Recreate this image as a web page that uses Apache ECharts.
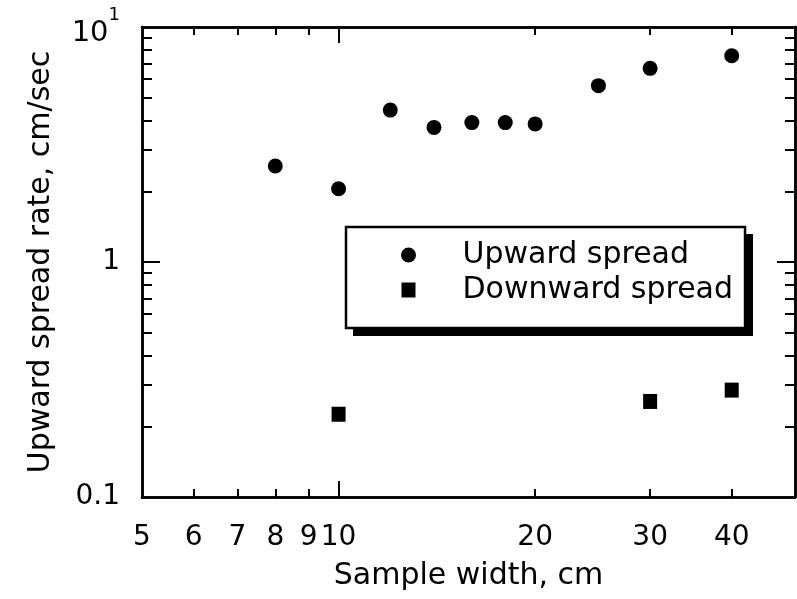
<!DOCTYPE html>
<html><head><meta charset="utf-8">
<script src="https://cdn.jsdelivr.net/npm/echarts@6/dist/echarts.min.js"></script>
<style>html,body{margin:0;padding:0;background:#fff}#c{width:797px;height:599px}</style>
</head><body><div id="c"></div>
<script>
// ---- data ----
const upwardWidth = [8, 10, 12, 14, 16, 18, 20, 25, 30, 40];
const upwardRate = [2.56, 2.05, 4.43, 3.74, 3.92, 3.92, 3.87, 5.63, 6.67, 7.55];
const downwardWidth = [10, 30, 40];
const downwardRate = [0.225, 0.255, 0.285];
const seriesNames = ['Upward spread', 'Downward spread'];
const xLabelValues = [5, 6, 7, 8, 9, 10, 20, 30, 40];
const xMinorTicks = [6, 7, 8, 9, 20, 30, 40];
const xMajorTicks = [10];
const yLabelValues = [0.1, 1, 10];
const yMinorTicks = [0.2, 0.3, 0.4, 0.5, 0.6, 0.7, 0.8, 0.9, 2, 3, 4, 5, 6, 7, 8, 9];
const yMajorTicks = [1];
const xTitle = 'Sample width, cm';
const yTitle = 'Upward spread rate, cm/sec';

const FONT = 'DejaVu Sans';
const BLACK = '#000';

function pair(xs, ys) { return xs.map((x, i) => [x, ys[i]]); }

function makeAxis(kind, pos, ticks, len, extra) {
  const base = {
    type: 'log', logBase: 10,
    min: kind === 'x' ? 5 : 0.1,
    max: kind === 'x' ? 50 : 10,
    position: pos,
    axisLine: { show: true, onZero: false, lineStyle: { color: BLACK, width: 2.5 } },
    axisTick: { show: true, inside: true, length: len, customValues: ticks, lineStyle: { color: BLACK, width: 2 } },
    axisLabel: { show: false },
    splitLine: { show: false },
    minorTick: { show: false },
    minorSplitLine: { show: false },
    silent: true
  };
  return Object.assign(base, extra || {});
}

const labelStyle = { fontFamily: FONT, fontSize: 28, color: BLACK };

const option = {
  animation: false,
  backgroundColor: '#fff',
  grid: { left: 142, right: 2, top: 27, bottom: 102, outerBoundsMode: 'none', containLabel: false },
  graphic: [
    { type: 'rect', z: 3, silent: true, shape: { x: 353, y: 234, width: 400, height: 102 }, style: { fill: BLACK } }
  ],
  xAxis: [
    makeAxis('x', 'bottom', xMinorTicks, 8, {
      axisLabel: Object.assign({ show: true, customValues: xLabelValues, margin: 27, formatter: v => String(Math.round(v)) }, labelStyle),
      name: xTitle, nameLocation: 'middle', nameGap: 64,
      nameTextStyle: { fontFamily: FONT, fontSize: 30, color: BLACK }
    }),
    makeAxis('x', 'bottom', xMajorTicks, 16),
    makeAxis('x', 'top', xMinorTicks, 8),
    makeAxis('x', 'top', xMajorTicks, 16)
  ],
  yAxis: [
    makeAxis('y', 'left', yMinorTicks, 10, {
      axisLabel: Object.assign({
        show: true, customValues: yLabelValues, margin: 22,
        formatter: v => (Math.abs(v - 10) < 1e-6 ? '{b|10}{s|1}' : (Math.abs(v - 1) < 1e-6 ? '1' : '0.1')),
        rich: {
          b: { fontFamily: FONT, fontSize: 29, color: BLACK, padding: [12, 0, 0, 0] },
          s: { fontFamily: FONT, fontSize: 18, color: BLACK, verticalAlign: 'top' }
        }
      }, labelStyle),
      name: yTitle, nameLocation: 'middle', nameGap: 86,
      nameTextStyle: { fontFamily: FONT, fontSize: 30, color: BLACK }
    }),
    makeAxis('y', 'left', yMajorTicks, 18),
    makeAxis('y', 'right', yMinorTicks, 10),
    makeAxis('y', 'right', yMajorTicks, 18)
  ],
  legend: {
    show: true,
    z: 5,
    orient: 'vertical',
    left: 346, top: 227,
    padding: [13, 12, 23, 55],
    itemWidth: 98, itemHeight: 15, itemGap: 5,
    backgroundColor: '#fff',
    borderColor: BLACK, borderWidth: 2.5,
    selectedMode: false,
    textStyle: { fontFamily: FONT, fontSize: 30, color: BLACK, lineHeight: 30 },
    data: [
      { name: seriesNames[0], icon: 'circle' },
      { name: seriesNames[1], icon: 'path://M0 0H14V15H0Z' }
    ]
  },
  series: [
    {
      name: seriesNames[0], type: 'scatter', xAxisIndex: 0, yAxisIndex: 0,
      symbol: 'circle', symbolSize: 15,
      itemStyle: { color: BLACK, opacity: 1 },
      emphasis: { disabled: true },
      data: pair(upwardWidth, upwardRate)
    },
    {
      name: seriesNames[1], type: 'scatter', xAxisIndex: 0, yAxisIndex: 0,
      symbol: 'rect', symbolSize: [14, 15],
      itemStyle: { color: BLACK, opacity: 1 },
      emphasis: { disabled: true },
      data: pair(downwardWidth, downwardRate)
    }
  ]
};

const chart = echarts.init(document.getElementById('c'), null, { renderer: 'canvas', width: 797, height: 599 });
chart.setOption(option);
</script>
</body></html>
